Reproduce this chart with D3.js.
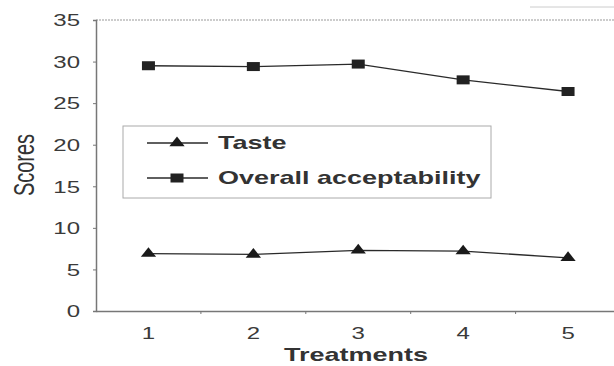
<!DOCTYPE html>
<html><head><meta charset="utf-8">
<script src="https://cdn.jsdelivr.net/npm/d3@7"></script>
<style>body{margin:0;background:#fff}svg{display:block}text{font-family:"Liberation Sans",Arial,sans-serif}</style>
</head><body>
<svg id="c" width="614" height="366"></svg>
<script>
const categories = ["1","2","3","4","5"];
const taste = [6.9, 6.8, 7.3, 7.2, 6.4];
const overall = [29.5, 29.4, 29.7, 27.8, 26.4];
const yTicks = [0,5,10,15,20,25,30,35];
const seriesNames = ["Taste","Overall acceptability"];

(function(){
const svg = d3.select("#c");
const SX = 1.5; // horizontal stretch of the scanned figure
const mL = 96, mR = 620.5, mT = 20, mB = 311;
const x = d3.scaleBand().domain(categories).range([mL, mR]);
const y = d3.scaleLinear().domain([0,35]).range([mB, mT]);
const ink = "#2a2a2a";

function txt(px, py, s, size, weight, anchor, extra){
  return svg.append("text").attr("transform",`translate(${px},${py}) scale(${SX},1)${extra||""}`)
    .attr("text-anchor",anchor||"start").attr("font-size",size).attr("font-weight",weight||"normal")
    .attr("fill","#333").text(s);
}

// faint scan line & top dotted border
svg.append("line").attr("x1",530).attr("x2",614).attr("y1",7).attr("y2",7).attr("stroke","#ccc");
svg.append("line").attr("x1",mL).attr("x2",614).attr("y1",mT).attr("y2",mT)
  .attr("stroke","#999").attr("stroke-width",1).attr("stroke-dasharray","2,1");

// y axis
const ya = svg.append("g").attr("transform",`translate(${mL},0)`)
  .call(d3.axisLeft(y).tickValues(yTicks).tickSize(3));
ya.select(".domain").attr("stroke","#777").attr("stroke-width",1.5);
ya.selectAll(".tick line").attr("stroke","#777");
ya.selectAll("text").attr("font-size",16).attr("fill","#3a3a3a").attr("dy","0.36em")
  .attr("x",-16/SX).attr("transform",`scale(${SX},1)`);

// x axis
const xa = svg.append("g").attr("transform",`translate(0,${mB})`)
  .call(d3.axisBottom(x).tickSize(0).tickPadding(17));
xa.select(".domain").attr("stroke","#777").attr("stroke-width",1.5);
xa.selectAll(".tick text").attr("font-size",16).attr("fill","#3a3a3a")
  .attr("transform",`scale(${SX},1)`).attr("x",0);
xa.selectAll(".tick").each(function(d){
  const t = d3.select(this);
  const tx = x(d) + x.bandwidth()/2;
  t.attr("transform",`translate(${tx},0)`);
});
svg.append("g").selectAll("line").data(categories.slice(1)).join("line")
  .attr("x1",d=>x(d)).attr("x2",d=>x(d)).attr("y1",mB).attr("y2",mB+3)
  .attr("stroke","#777");

// axis titles
txt(34, 165, "Scores", 20, "normal", "middle", " rotate(-90)");
txt(356, 361, "Treatments", 18, "bold", "middle");

const cx = d => x(d) + x.bandwidth()/2;
const line = d3.line().x((v,i)=>cx(categories[i])).y(v=>y(v));
const tri = d3.symbol().type(d3.symbolTriangle).size(60);

function marker(g, kind, px, py){
  if(kind==="tri"){
    g.append("path").attr("d",tri).attr("transform",`translate(${px},${py}) scale(1.3,0.95)`).attr("fill","#1a1a1a");
  } else {
    g.append("rect").attr("x",px-6.5).attr("y",py-4.5).attr("width",13).attr("height",9).attr("fill","#222");
  }
}
function drawSeries(vals, kind){
  svg.append("path").attr("d",line(vals)).attr("fill","none").attr("stroke",ink).attr("stroke-width",1.3);
  const g = svg.append("g");
  vals.forEach((v,i)=>marker(g, kind, cx(categories[i]), y(v)));
}
drawSeries(overall,"sq");
drawSeries(taste,"tri");

// legend
const lg = svg.append("g");
lg.append("rect").attr("x",123).attr("y",126).attr("width",368).attr("height",72)
  .attr("fill","#fff").attr("stroke","#aaa").attr("stroke-width",1);
const legY = [143,178];
seriesNames.forEach((n,i)=>{
  lg.append("line").attr("x1",147).attr("x2",208).attr("y1",legY[i]).attr("y2",legY[i]).attr("stroke",ink).attr("stroke-width",1.3);
  marker(lg, i===0?"tri":"sq", 177, legY[i]);
  txt(218, legY[i], n, 18, "bold", "start").attr("dy","0.36em");
});
})();
</script>
</body></html>
